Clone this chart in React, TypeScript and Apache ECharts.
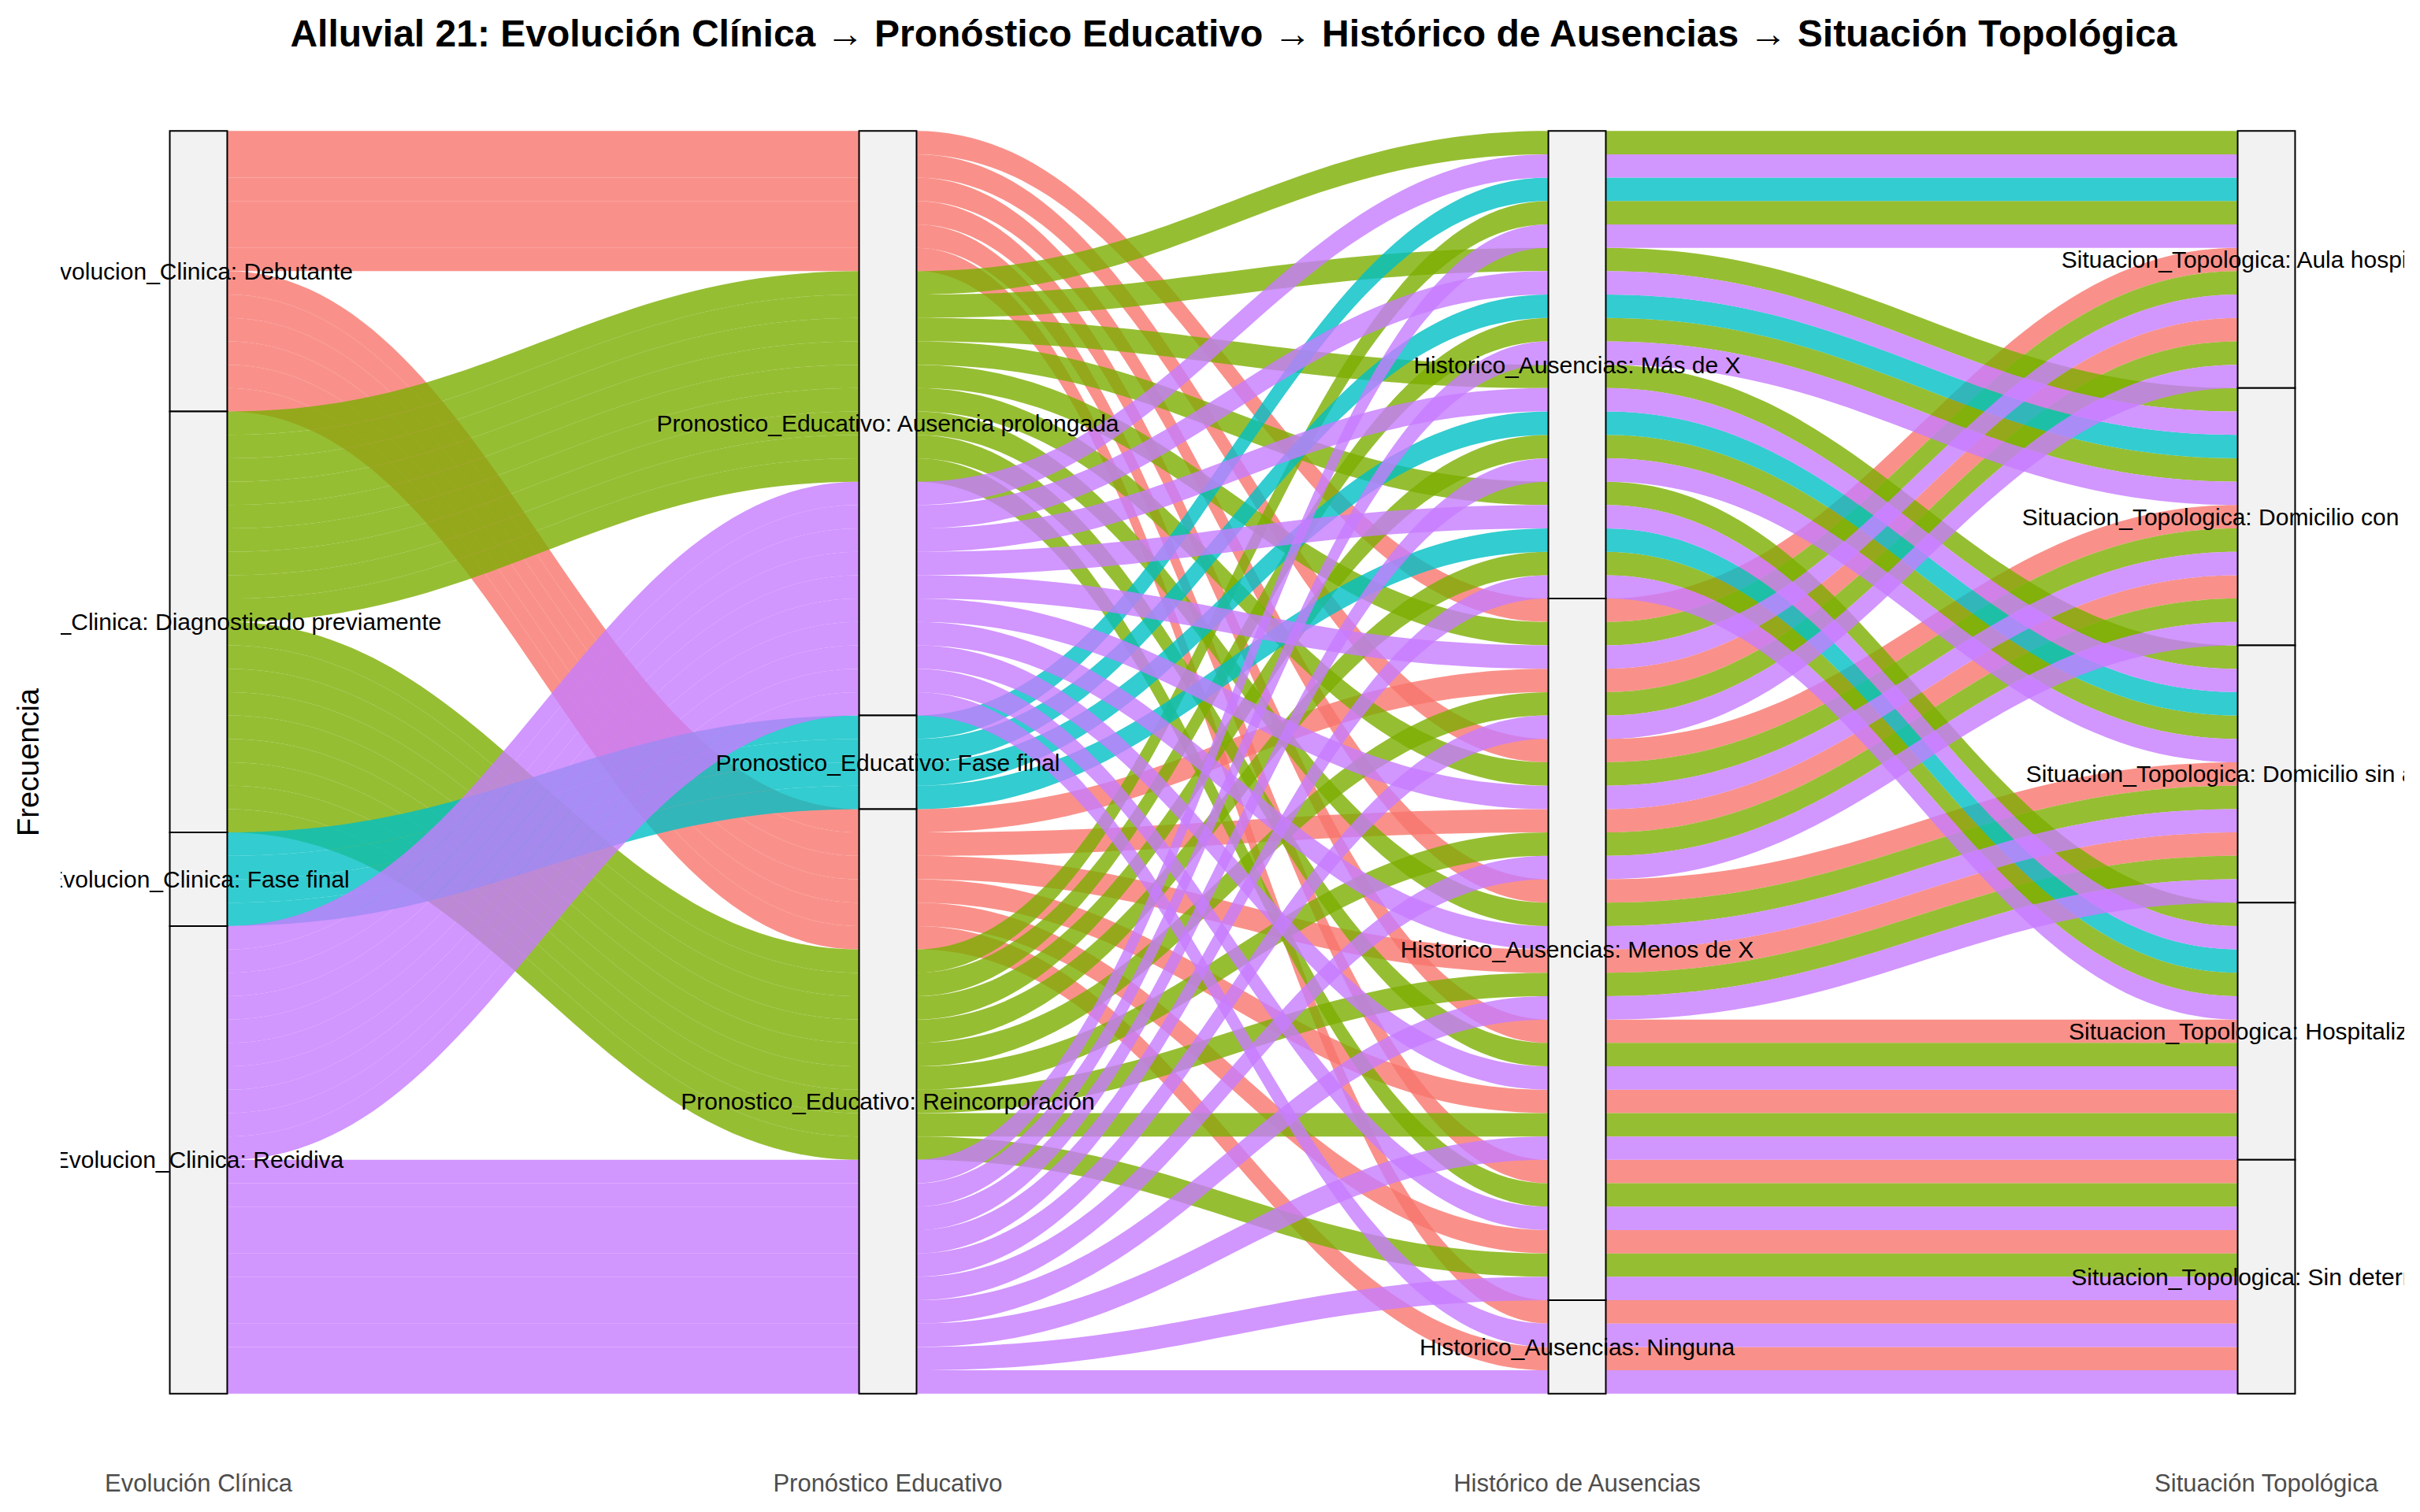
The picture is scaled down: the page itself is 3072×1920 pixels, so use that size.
import React, { useEffect, useRef } from "react";
import * as echarts from "echarts";

const chartTitle =
  "Alluvial 21: Evolución Clínica → Pronóstico Educativo → Histórico de Ausencias → Situación Topológica";
const axisNames = ["Evolución Clínica", "Pronóstico Educativo", "Histórico de Ausencias", "Situación Topológica"];
const variableNames = ["Evolucion_Clinica", "Pronostico_Educativo", "Historico_Ausencias", "Situacion_Topologica"];
const evolucionLevels = ["Debutante", "Diagnosticado previamente", "Fase final", "Recidiva"];
const pronosticoLevels = ["Ausencia prolongada", "Fase final", "Reincorporación"];
const historicoLevels = ["Más de X", "Menos de X", "Ninguna"];
const situacionLevels = [
  "Aula hospitalaria",
  "Domicilio con asistencia",
  "Domicilio sin asistencia",
  "Hospitalización",
  "Sin determinar",
];
const fillColors = ["#F8766D", "#7CAE00", "#00BFC4", "#C77CFF"];

// One entry per observation (index into the level arrays above)
const obsEvolucion = [
  1, 3, 2, 1, 3, 0, 1, 3, 0, 1, 3,
  1, 3, 2, 1, 3, 0, 1, 3, 0, 1, 3,
  1, 3, 2, 1, 3, 0, 1, 3, 0, 1, 3,
  1, 3, 2, 1, 3, 0, 1, 3, 0, 1, 3,
  0, 1, 3, 0, 1, 3, 0, 3, 0, 3,
];
const obsPronostico = [
  0, 0, 1, 2, 2, 0, 0, 0, 2, 2, 2,
  0, 0, 1, 2, 2, 0, 0, 0, 2, 2, 2,
  0, 0, 1, 2, 2, 0, 0, 0, 2, 2, 2,
  0, 0, 1, 2, 2, 0, 0, 0, 2, 2, 2,
  0, 0, 0, 2, 2, 2, 0, 0, 2, 2,
];
const obsHistorico = [
  0, 0, 0, 0, 0, 1, 1, 1, 1, 1, 1,
  0, 0, 0, 0, 0, 1, 1, 1, 1, 1, 1,
  0, 0, 0, 0, 0, 1, 1, 1, 1, 1, 1,
  0, 0, 0, 0, 0, 1, 1, 1, 1, 1, 1,
  1, 1, 1, 1, 1, 1, 2, 2, 2, 2,
];
const obsSituacion = [
  0, 0, 0, 0, 0, 0, 0, 0, 0, 0, 0,
  1, 1, 1, 1, 1, 1, 1, 1, 1, 1, 1,
  2, 2, 2, 2, 2, 2, 2, 2, 2, 2, 2,
  3, 3, 3, 3, 3, 3, 3, 3, 3, 3, 3,
  4, 4, 4, 4, 4, 4, 4, 4, 4, 4,
];

const FONT = "'Liberation Sans', Arial, sans-serif";

function rgba(hex: string, a: number) {
  const v = parseInt(hex.slice(1), 16);
  return `rgba(${(v >> 16) & 255},${(v >> 8) & 255},${v & 255},${a})`;
}

export default function App() {
  const ref = useRef<HTMLDivElement>(null);
  useEffect(() => {
    document.body.style.margin = "0";
    const chart = echarts.init(ref.current!, undefined, { renderer: "svg" });

    const levelsByAxis = [evolucionLevels, pronosticoLevels, historicoLevels, situacionLevels];
    const obsByAxis = [obsEvolucion, obsPronostico, obsHistorico, obsSituacion];
    const n = obsEvolucion.length;
    // ggalluvial "zigzag" lode guidance
    const zigzag = [
      [0, 1, 2, 3],
      [1, 0, 2, 3],
      [2, 3, 1, 0],
      [3, 2, 1, 0],
    ];
    const lodeTop: number[][] = [];
    for (let a = 0; a < 4; a++) {
      const idx = Array.from({ length: n }, (_, i) => i);
      idx.sort((p, q) => {
        for (const k of zigzag[a]) {
          const d = obsByAxis[k][p] - obsByAxis[k][q];
          if (d !== 0) return d;
        }
        return p - q;
      });
      const tops = new Array(n).fill(0);
      idx.forEach((j, rank) => {
        tops[j] = n - rank;
      });
      lodeTop.push(tops);
    }

    // flows (draw order by fill group)
    const drawOrder = Array.from({ length: n }, (_, i) => i).sort(
      (p, q) => obsEvolucion[p] - obsEvolucion[q] || p - q
    );
    const flowData: number[][] = [];
    drawOrder.forEach((j) => {
      for (let a = 0; a < 3; a++) {
        flowData.push([a + 1, a + 2, lodeTop[a][j], lodeTop[a + 1][j], obsEvolucion[j]]);
      }
    });

    // strata
    const strataLabels: string[] = [];
    const strataData: number[][] = [];
    for (let a = 0; a < 4; a++) {
      let top = n;
      levelsByAxis[a].forEach((lev, l) => {
        const cnt = obsByAxis[a].filter((v) => v === l).length;
        if (cnt === 0) return;
        strataLabels.push(`${variableNames[a]}: ${lev}`);
        strataData.push([a + 1, top, top - cnt, strataLabels.length - 1]);
        top -= cnt;
      });
    }

    const HALF = 1 / 24;
    const KNOT = 0.42;

    const option: any = {
      animation: false,
      backgroundColor: "#ffffff",
      textStyle: { fontFamily: FONT },
      title: {
        text: chartTitle,
        left: 1561,
        textAlign: "center",
        top: 13,
        textStyle: { fontSize: 48, fontWeight: "bold", color: "#000", fontFamily: FONT },
      },
      grid: { left: 77, right: 20, top: 86, bottom: 70, containLabel: false, outerBoundsMode: "none" },
      xAxis: {
        type: "value",
        min: 0.8,
        max: 4.2,
        axisLine: { show: false },
        axisTick: { show: false },
        splitLine: { show: false },
        axisLabel: {
          customValues: [1, 2, 3, 4],
          formatter: (v: number) => (Math.abs(v - Math.round(v)) < 1e-6 ? axisNames[Math.round(v) - 1] ?? "" : ""),
          color: "#4D4D4D",
          fontSize: 31,
          margin: 18,
          fontFamily: FONT,
        },
      },
      yAxis: {
        type: "value",
        min: -2.7,
        max: 56.7,
        axisLine: { show: false },
        axisTick: { show: false },
        splitLine: { show: false },
        axisLabel: { show: false },
        name: "Frecuencia",
        nameLocation: "middle",
        nameRotate: 90,
        nameGap: 22,
        nameTextStyle: { fontSize: 38, color: "#000", fontFamily: FONT },
      },
      series: [
        {
          type: "custom",
          name: "flows",
          z: 1,
          clip: true,
          encode: { x: [0, 1], y: [2, 3] },
          data: flowData,
          renderItem: (params: any, api: any) => {
            const xa = (api.value(0) as number) + HALF;
            const xb = (api.value(1) as number) - HALF;
            const t0 = api.value(2) as number;
            const t1 = api.value(3) as number;
            const e = api.value(4) as number;
            const p1 = api.coord([xa, t0]);
            const p2 = api.coord([xb, t1]);
            const p3 = api.coord([xb, t1 - 1]);
            const p4 = api.coord([xa, t0 - 1]);
            const k = (p2[0] - p1[0]) * KNOT;
            const d =
              `M${p1[0]} ${p1[1]} C${p1[0] + k} ${p1[1]} ${p2[0] - k} ${p2[1]} ${p2[0]} ${p2[1]} ` +
              `L${p3[0]} ${p3[1]} C${p3[0] - k} ${p3[1]} ${p4[0] + k} ${p4[1]} ${p4[0]} ${p4[1]} Z`;
            return {
              type: "path",
              shape: { pathData: d },
              style: { fill: rgba(fillColors[e], 0.8), stroke: "none" },
            };
          },
        },
        {
          type: "custom",
          name: "strata",
          z: 2,
          encode: { x: 0, y: [1, 2] },
          data: strataData,
          renderItem: (params: any, api: any) => {
            const x = api.value(0) as number;
            const pa = api.coord([x - HALF, api.value(1)]);
            const pb = api.coord([x + HALF, api.value(2)]);
            return {
              type: "rect",
              shape: { x: pa[0], y: pa[1], width: pb[0] - pa[0], height: pb[1] - pa[1] },
              style: { fill: "#F2F2F2", stroke: "#000", lineWidth: 2 },
            };
          },
        },
        {
          type: "custom",
          name: "labels",
          z: 3,
          clip: true,
          encode: { x: 0, y: [1, 2] },
          data: strataData,
          renderItem: (params: any, api: any) => {
            const x = api.value(0) as number;
            const yc = ((api.value(1) as number) + (api.value(2) as number)) / 2;
            const p = api.coord([x, yc]);
            return {
              type: "text",
              x: p[0],
              y: p[1],
              style: {
                text: strataLabels[api.value(3) as number],
                align: "center",
                verticalAlign: "middle",
                fontSize: 30,
                fontFamily: FONT,
                fill: "#000",
              },
            };
          },
        },
      ],
    };
    chart.setOption(option);
    return () => chart.dispose();
  }, []);
  return <div ref={ref} style={{ width: 3072, height: 1920 }} />;
}
